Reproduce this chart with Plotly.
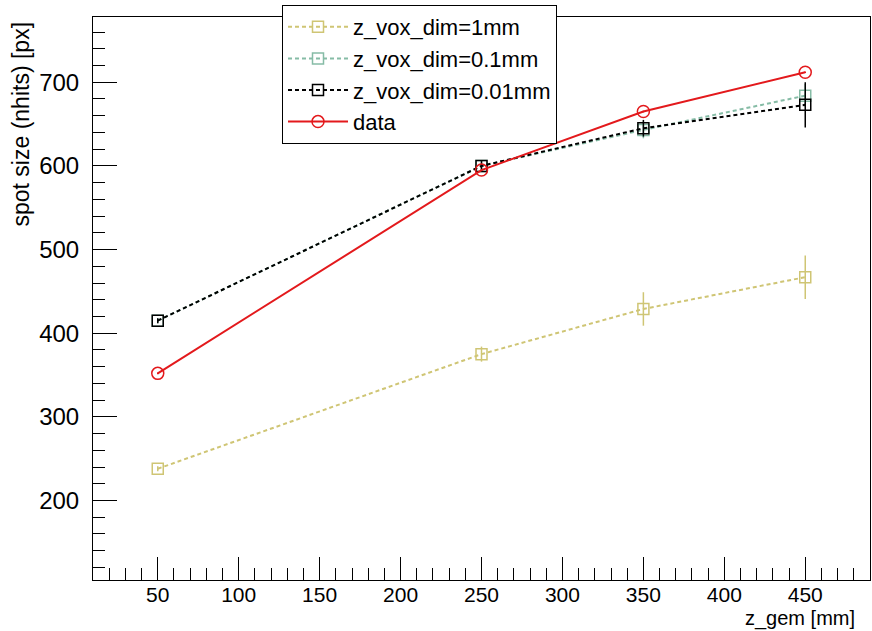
import plotly.graph_objects as go

z_gem = [50, 250, 350, 450]

vox_1mm = [238, 375, 429, 467]
vox_1mm_err = [3, 9, 20, 26]

vox_01mm = [415, 600, 643, 684]
vox_01mm_err = [3, 6, 10, 14]

vox_001mm = [415, 600, 645, 673]
vox_001mm_err = [3, 6, 10, 27]

data_vals = [352, 595, 665, 712]
data_err = [1, 1, 1, 1]

names = ["z_vox_dim=1mm", "z_vox_dim=0.1mm", "z_vox_dim=0.01mm", "data"]

fig = go.Figure()

sim_series = [
    (vox_1mm, vox_1mm_err, "#cfc574", names[0]),
    (vox_01mm, vox_01mm_err, "#86bca6", names[1]),
    (vox_001mm, vox_001mm_err, "#000000", names[2]),
]
for vals, errs, col, nm in sim_series:
    fig.add_trace(go.Scatter(
        x=z_gem, y=vals, name=nm, mode="lines+markers",
        line=dict(color=col, width=2, dash="4px,3px"),
        marker=dict(symbol="square-open", size=11, color=col, line=dict(width=1.5, color=col)),
        error_y=dict(type="data", array=errs, visible=True, color=col, thickness=1.5, width=0),
    ))

fig.add_trace(go.Scatter(
    x=z_gem, y=data_vals, name=names[3], mode="lines+markers",
    line=dict(color="#e3191c", width=2),
    marker=dict(symbol="circle-open", size=12, color="#e3191c", line=dict(width=1.5, color="#e3191c")),
    error_y=dict(type="data", array=data_err, visible=True, color="#e3191c", thickness=1.5, width=0),
))

font_family = "Liberation Sans, Arial, Helvetica, sans-serif"

fig.update_layout(
    width=872, height=631,
    margin=dict(l=93, r=2, t=17, b=51),
    paper_bgcolor="white", plot_bgcolor="white",
    font=dict(family=font_family, color="black", size=23),
    showlegend=True,
    legend=dict(
        x=(282 - 93) / 777, y=1 + 12 / 563, xanchor="left", yanchor="top",
        bgcolor="white", bordercolor="black", borderwidth=1,
        font=dict(size=22, family=font_family), tracegroupgap=0,
        itemwidth=60,
    ),
    xaxis=dict(
        range=[10, 490], showgrid=False, zeroline=False,
        showline=True, linecolor="black", linewidth=1, mirror=True,
        ticks="inside", ticklen=23, tickwidth=1, tickcolor="black",
        dtick=50, tick0=0, tickfont=dict(size=21),
        minor=dict(ticks="inside", ticklen=12, dtick=10, tickcolor="black", tickwidth=1),
        ticklabelstandoff=-4,
    ),
    yaxis=dict(
        range=[105, 778], showgrid=False, zeroline=False,
        showline=True, linecolor="black", linewidth=1, mirror=True,
        ticks="inside", ticklen=24, tickwidth=1, tickcolor="black",
        dtick=100, tick0=0, tickfont=dict(size=24),
        minor=dict(ticks="inside", ticklen=12, dtick=20, tickcolor="black", tickwidth=1),
        ticklabelstandoff=8,
    ),
    annotations=[
        dict(text="z_gem [mm]", xref="paper", yref="paper",
             x=(857 - 93) / 777, y=-(632 - 580) / 563, xanchor="right", yanchor="bottom",
             showarrow=False, font=dict(size=20)),
        dict(text="spot size (nhits) [px]", xref="paper", yref="paper",
             x=(20 - 93) / 777, y=1 - (20 - 17) / 563, xanchor="center", yanchor="top",
             textangle=-90, showarrow=False, font=dict(size=23)),
    ],
)

fig.write_html("out.html")
